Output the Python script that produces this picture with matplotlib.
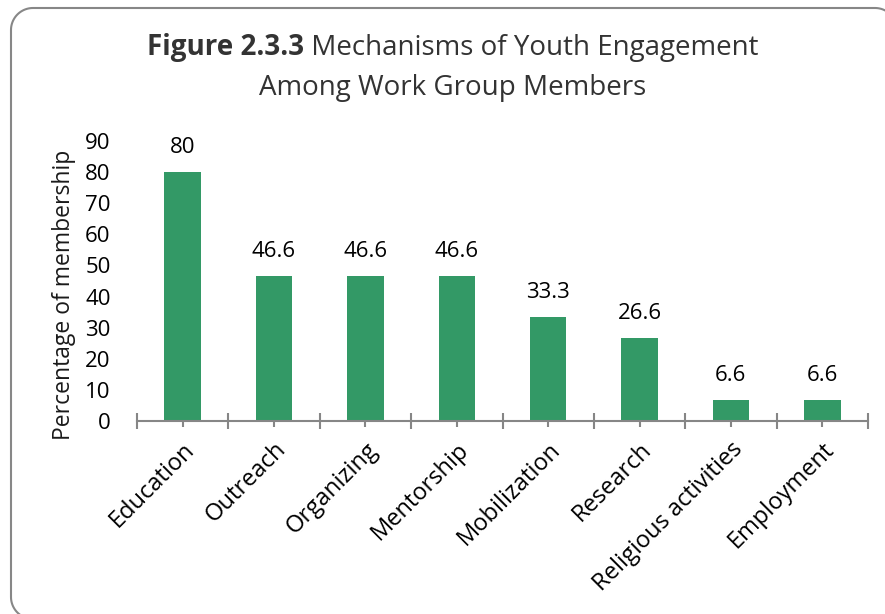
import numpy as np
import matplotlib.pyplot as plt
from matplotlib.lines import Line2D

categories = ['Education', 'Outreach', 'Organizing', 'Mentorship',
              'Mobilization', 'Research', 'Religious activities', 'Employment']
values = [80, 46.6, 46.6, 46.6, 33.3, 26.6, 6.6, 6.6]
value_labels = ['80', '46.6', '46.6', '46.6', '33.3', '26.6', '6.6', '6.6']
y_ticks = [0, 10, 20, 30, 40, 50, 60, 70, 80, 90]

W, H = 885, 614
bar_color = '#339966'
axis_gray = '#868686'
plt.rcParams['font.family'] = ['Open Sans', 'DejaVu Sans']
plt.rcParams['savefig.bbox'] = 'standard'

fig = plt.figure(figsize=(W / 100, H / 100), dpi=100)
fig.patch.set_facecolor('white')

# plot area in pixels: x 137..868, y(0)=421, y(90)=141
ax = fig.add_axes([137 / W, 1 - 421 / H, (868 - 137) / W, (421 - 141) / H])
x = np.arange(len(categories))
ax.bar(x, values, width=0.4, color=bar_color, zorder=2)
for xi, v, lab in zip(x, values, value_labels):
    ax.annotate(lab, (xi, v), xytext=(0, 18), textcoords='offset points',
                ha='center', va='center', fontsize=16, color='black')

ax.set_xlim(-0.5, len(categories) - 0.5)
ax.set_ylim(0, 90)
ax.set_yticks(y_ticks)
ax.tick_params(axis='y', length=0, pad=19, labelsize=16, labelcolor='black')

ax.set_xticks(x)
ax.set_xticklabels(categories, rotation=45, ha='right', rotation_mode='anchor')
ax.set_xticks(np.arange(len(categories) + 1) - 0.5, minor=True)
ax.tick_params(axis='x', which='major', direction='inout', length=8, width=1.5,
               color=axis_gray, pad=8, labelsize=17, labelcolor='black')
ax.tick_params(axis='x', which='minor', direction='inout', length=12, width=1.5,
               color=axis_gray)

for side in ['left', 'right', 'top']:
    ax.spines[side].set_visible(False)
ax.spines['bottom'].set_color(axis_gray)
ax.spines['bottom'].set_linewidth(1.5)
ax.set_facecolor('none')

fig.text(64 / W, 1 - 295 / H, 'Percentage of membership', rotation=90,
         ha='center', va='center', fontsize=16.5, color='#1a1a1a')

# title: bold prefix + regular rest on the first line
fig.canvas.draw()
r = fig.canvas.get_renderer()
t1 = fig.text(0, 0, 'Figure 2.3.3', fontsize=20, fontweight='bold', color='#333333')
t2 = fig.text(0, 0, ' Mechanisms of Youth Engagement', fontsize=20, color='#333333')
w1 = t1.get_window_extent(r).width
w2 = t2.get_window_extent(r).width
cx = 453
left = cx - (w1 + w2) / 2
t1.set_position((left / W, 1 - 48 / H))
t1.set_va('center')
t2.set_position(((left + w1) / W, 1 - 48 / H))
t2.set_va('center')
fig.text(cx / W, 1 - 88 / H, 'Among Work Group Members', fontsize=20,
         color='#333333', ha='center', va='center')


def arc(xc, yc, rad, a0, a1, n=30):
    a = np.radians(np.linspace(a0, a1, n))
    return xc + rad * np.cos(a), yc + rad * np.sin(a)


# rounded frame (pixel coords, y down), running off the right and bottom edges
rad = 22
fx0, fy0, fx1, fy1 = 11, 8, 897, 619
bl = arc(fx0 + rad, fy1 - rad, rad, 90, 180)
tl = arc(fx0 + rad, fy0 + rad, rad, 180, 270)
tr = arc(fx1 - rad, fy0 + rad, rad, 270, 320)
px = np.concatenate([bl[0], tl[0], tr[0]])
py = np.concatenate([bl[1], tl[1], tr[1]])
frame = Line2D(px / W, 1 - py / H, transform=fig.transFigure,
               color='#878787', linewidth=1.5, solid_capstyle='butt')
fig.add_artist(frame)

fig.savefig('out.png', dpi=100)
